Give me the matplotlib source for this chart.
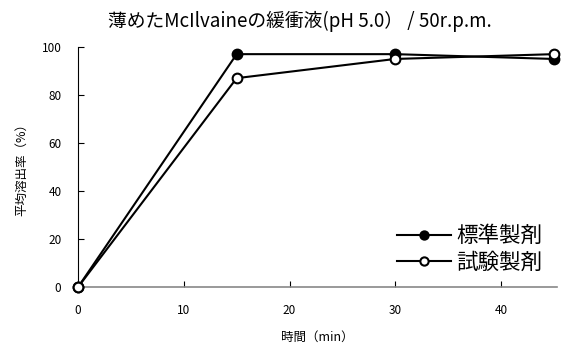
import matplotlib
matplotlib.use("Agg")
import matplotlib.pyplot as plt

plt.rcParams['font.family'] = ['Noto Sans CJK JP', 'DejaVu Sans']

# --- データ ---
time_min = [0, 15, 30, 45]
standard = [0, 97, 97, 95]   # 標準製剤
test = [0, 87, 95, 97]       # 試験製剤

fig = plt.figure(figsize=(5.62, 3.53), dpi=100)
ax = fig.add_axes([0.139, 0.187, 0.852, 0.680])

ax.plot(time_min, standard, color='black', lw=1.5, marker='o', ms=7,
        mfc='black', mec='black', mew=1.5, label='標準製剤', clip_on=False, zorder=3)
ax.plot(time_min, test, color='black', lw=1.5, marker='o', ms=7,
        mfc='white', mec='black', mew=1.5, label='試験製剤', clip_on=False, zorder=4)

ax.set_xlim(0, 45.3)
ax.set_ylim(0, 100)
ax.set_xticks([0, 10, 20, 30, 40])
ax.set_yticks([0, 20, 40, 60, 80, 100])
ax.tick_params(direction='in', length=4, labelsize=8.5)
ax.tick_params(axis='y', pad=12)
ax.tick_params(axis='x', pad=12)
for s in ['top', 'right']:
    ax.spines[s].set_visible(False)
ax.spines['bottom'].set_color('#888888')
ax.spines['bottom'].set_linewidth(1.2)
ax.spines['left'].set_linewidth(0.8)

ax.set_xlabel('時間（min）', fontsize=9, labelpad=10)
ax.set_ylabel('平均溶出率（%）', fontsize=9, labelpad=10)
fig.text(0.534, 0.94, '薄めたMcIlvaineの緩衝液(pH 5.0） / 50r.p.m.',
         fontsize=13.5, ha='center', va='center')

ax.legend(loc='lower right', bbox_to_anchor=(1.01, -0.025), frameon=False,
          fontsize=15.5, handlelength=2.5, labelspacing=0.2, handletextpad=0.25,
          markerscale=0.85)

fig.savefig('out.png', dpi=100)
